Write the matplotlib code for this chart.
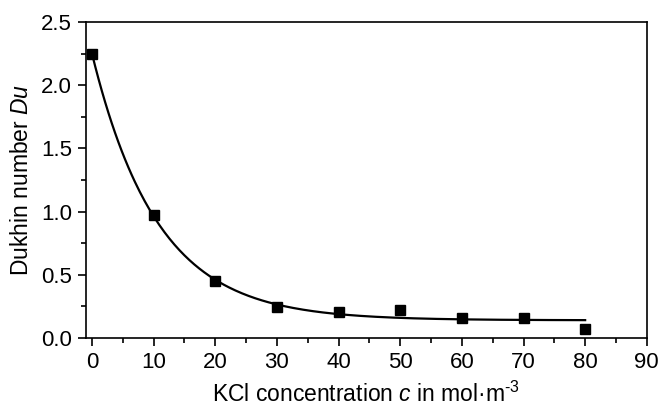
import numpy as np
import matplotlib
matplotlib.use("Agg")
import matplotlib.pyplot as plt
from matplotlib.ticker import MultipleLocator

plt.rcParams['font.family'] = ['Liberation Sans', 'DejaVu Sans']
plt.rcParams['mathtext.fontset'] = 'custom'
plt.rcParams['mathtext.rm'] = 'Liberation Sans'
plt.rcParams['mathtext.it'] = 'Liberation Sans:italic'

# KCl concentration and measured Dukhin number
conc = np.array([0, 10, 20, 30, 40, 50, 60, 70, 80])
dukhin = np.array([2.25, 0.97, 0.45, 0.245, 0.203, 0.219, 0.158, 0.156, 0.069])

# exponential decay fit y = y0 + A*exp(-x/t): grid over t, least squares for y0, A
best = None
for t in np.linspace(1, 40, 2000):
    M = np.column_stack([np.ones_like(conc, dtype=float), np.exp(-conc / t)])
    coef, res, _, _ = np.linalg.lstsq(M, dukhin, rcond=None)
    err = np.sum((M @ coef - dukhin) ** 2)
    if best is None or err < best[0]:
        best = (err, t, coef)
_, tau, (y0, amp) = best
xfit = np.linspace(conc.min(), conc.max(), 300)
yfit = y0 + amp * np.exp(-xfit / tau)

fig = plt.figure(figsize=(6.6, 4.09), dpi=100)
ax = fig.add_axes([0.130, 0.1736, 0.850, 0.7726])

ax.plot(xfit, yfit, color='black', lw=1.6, zorder=2)
ax.plot(conc, dukhin, 's', color='black', markersize=7.2, zorder=3)

ax.set_xlim(-1, 90)
ax.set_ylim(0, 2.5)
ax.xaxis.set_major_locator(MultipleLocator(10))
ax.xaxis.set_minor_locator(MultipleLocator(5))
ax.yaxis.set_major_locator(MultipleLocator(0.5))
ax.yaxis.set_minor_locator(MultipleLocator(0.25))
ax.yaxis.set_major_formatter(plt.FormatStrFormatter('%.1f'))
ax.tick_params(which='both', direction='out', top=False, right=False, labelsize=16, width=1.2)
ax.tick_params(which='major', length=6, pad=4)
ax.tick_params(which='minor', length=3.5)
for s in ax.spines.values():
    s.set_linewidth(1.2)

ax.set_xlabel('KCl concentration $c$ in mol\u00b7m$^{\\mathrm{\u20103}}$', fontsize=16.5, labelpad=6)
ax.set_ylabel('Dukhin number $Du$', fontsize=16.5, labelpad=6)

fig.savefig('out.png', dpi=100)
